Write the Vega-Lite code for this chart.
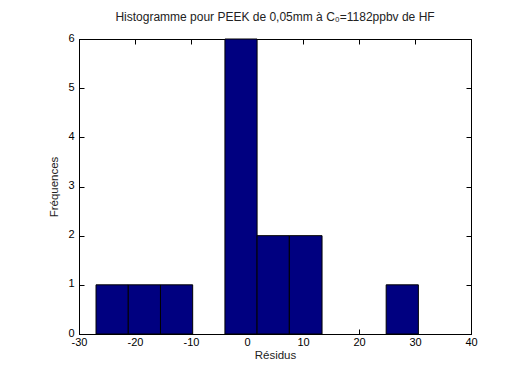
{
  "$schema": "https://vega.github.io/schema/vega-lite/v6.json",
  "width": 392,
  "height": 295,
  "autosize": {"type": "none"},
  "padding": {"left": 79, "top": 39, "right": 41, "bottom": 34},
  "background": "white",
  "title": {
    "text": "Histogramme pour PEEK de 0,05mm à C₀=1182ppbv de HF",
    "font": "Liberation Sans",
    "fontSize": 12,
    "fontWeight": "normal",
    "color": "#222222",
    "anchor": "middle",
    "offset": 8
  },
  "config": {
    "view": {"stroke": "black", "strokeWidth": 1},
    "axis": {
      "labelFont": "Liberation Sans",
      "labelFontSize": 11,
      "labelColor": "black",
      "titleFont": "Liberation Sans",
      "titleFontSize": 11.5,
      "titleFontWeight": "normal",
      "titleColor": "#222222",
      "domainColor": "black",
      "tickColor": "black",
      "grid": false
    }
  },
  "data": {
    "values": [
      {"start": -26.96, "end": -21.2, "count": 1},
      {"start": -21.2, "end": -15.45, "count": 1},
      {"start": -15.45, "end": -9.7, "count": 1},
      {"start": -3.94, "end": 1.8, "count": 6},
      {"start": 1.8, "end": 7.56, "count": 2},
      {"start": 7.56, "end": 13.4, "count": 2},
      {"start": 24.85, "end": 30.6, "count": 1}
    ]
  },
  "layer": [
    {
      "mark": {"type": "bar", "color": "#000080", "stroke": "black", "strokeWidth": 1},
      "encoding": {
        "x": {
          "field": "start", "type": "quantitative",
          "scale": {"domain": [-30, 40], "nice": false, "zero": false},
          "axis": {"title": "Résidus", "values": [-30, -20, -10, 0, 10, 20, 30, 40], "labelExpr": "'' + datum.value", "tickSize": -5, "labelPadding": 7, "titlePadding": 2, "labelFlush": false}
        },
        "x2": {"field": "end"},
        "y": {
          "field": "count", "type": "quantitative",
          "scale": {"domain": [0, 6], "nice": false},
          "axis": {"title": "Fréquences", "values": [0, 1, 2, 3, 4, 5, 6], "tickSize": -5, "labelPadding": 10, "labelOffset": -1, "titlePadding": 8, "labelFlush": false}
        },
        "y2": {"datum": 0}
      }
    },
    {
      "mark": {"type": "bar", "opacity": 0},
      "encoding": {
        "x": {
          "field": "start", "type": "quantitative",
          "axis": {"orient": "top", "title": null, "labels": false, "values": [-30, -20, -10, 0, 10, 20, 30, 40], "tickSize": -5}
        },
        "x2": {"field": "end"},
        "y": {
          "field": "count", "type": "quantitative",
          "axis": {"orient": "right", "title": null, "labels": false, "values": [0, 1, 2, 3, 4, 5, 6], "tickSize": -5}
        },
        "y2": {"datum": 0}
      }
    }
  ],
  "resolve": {"axis": {"x": "independent", "y": "independent"}}
}
